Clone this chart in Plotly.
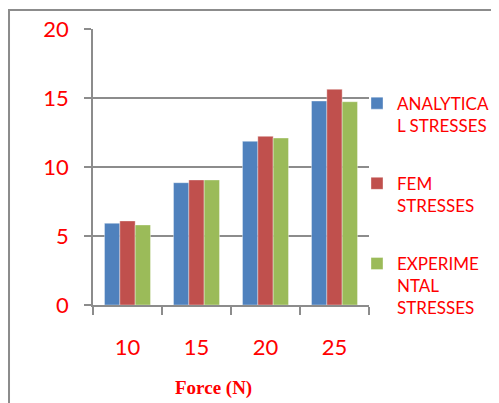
import plotly.graph_objects as go

forces = ["10", "15", "20", "25"]
analytical = [5.92, 8.86, 11.86, 14.78]
fem = [6.09, 9.06, 12.22, 15.63]
experimental = [5.80, 9.06, 12.10, 14.73]
y_ticks = [0, 5, 10, 15, 20]

names = ["ANALYTICA<br>L STRESSES", "FEM<br>STRESSES", "EXPERIME<br>NTAL<br>STRESSES"]
colors = ["#4F81BD", "#C0504D", "#9BBB59"]
series = [analytical, fem, experimental]

fig = go.Figure()
for i, (nm, col, vals) in enumerate(zip(names, colors, series)):
    fig.add_trace(go.Bar(
        x=forces, y=vals, name=nm, legendgroup=str(i),
        marker=dict(color=col, line=dict(color="rgba(255,255,255,0.6)", width=0.6)),
    ))

grid = "#8c8c8c"
fig.update_layout(
    width=499, height=403,
    margin=dict(l=85, r=138, t=21, b=106, autoexpand=False),
    paper_bgcolor="white", plot_bgcolor="white",
    barmode="group", bargap=1.5 / 4.5, bargroupgap=0,
    font=dict(family="Lato", color="red"),
    showlegend=True,
    legend=dict(
        x=0.9565, xanchor="left", y=0.795, yanchor="top",
        font=dict(size=17, color="red", family="Lato"),
        tracegroupgap=33, valign="top", itemwidth=30,
        bgcolor="rgba(0,0,0,0)",
    ),
    xaxis=dict(
        type="category", range=[-0.5, 3.5],
        showline=True, linecolor=grid, linewidth=1.5,
        ticks="outside", tickson="boundaries", ticklen=8, tickcolor=grid, tickwidth=1.5,
        tickfont=dict(size=22, color="red"), ticklabelstandoff=22,
        showgrid=False,
    ),
    yaxis=dict(
        range=[0, 20], tickvals=y_ticks,
        showline=True, linecolor=grid, linewidth=1.5,
        ticks="outside", ticklen=7, tickcolor=grid, tickwidth=1.5,
        showgrid=True, gridcolor=grid, gridwidth=1.5,
        tickfont=dict(size=22, color="red"), ticklabelstandoff=11,
        zeroline=False,
    ),
    annotations=[dict(
        text="<b>Force (N)</b>", xref="paper", yref="paper",
        x=0.435, y=-0.30, xanchor="center", yanchor="middle", showarrow=False,
        font=dict(family="Liberation Serif", size=19, color="red"),
    )],
    shapes=[dict(
        type="rect", xref="paper", yref="paper",
        x0=-0.3043, x1=1.6, y0=-0.5, y1=1.0688,
        line=dict(color="#8c8c8c", width=2), fillcolor="rgba(0,0,0,0)", layer="above",
    )],
)

fig.write_html("out.html")
